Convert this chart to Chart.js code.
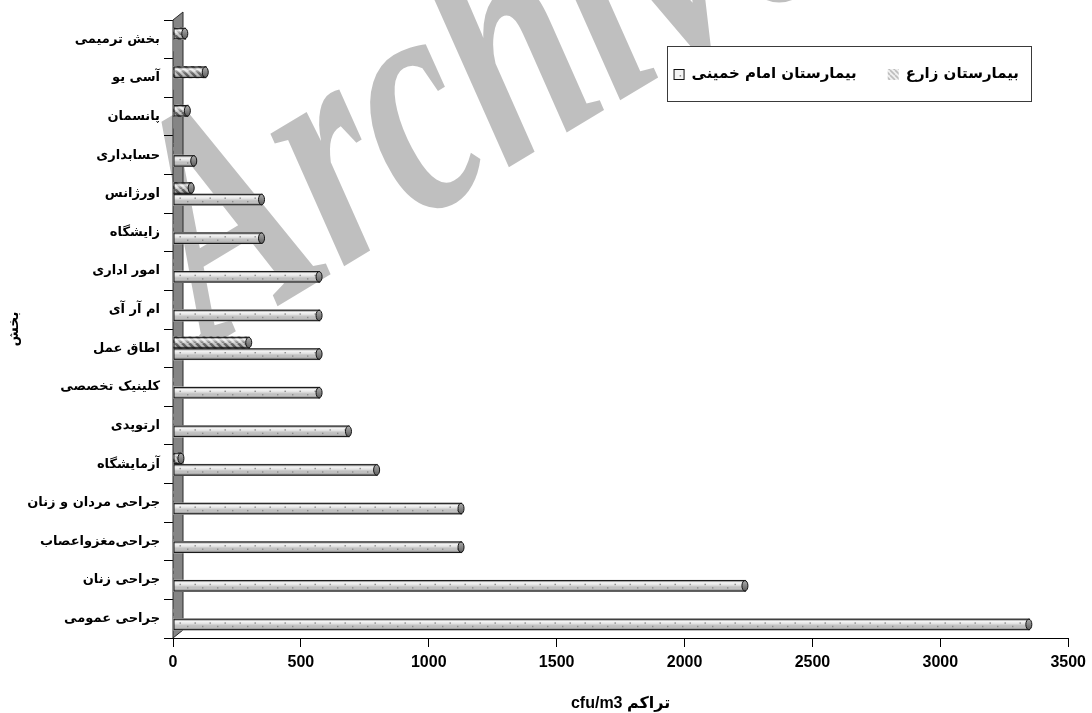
<!DOCTYPE html>
<html>
<head>
<meta charset="utf-8">
<script src="https://cdn.jsdelivr.net/npm/chart.js@4/dist/chart.umd.min.js"></script>
<style>
  html, body { margin: 0; padding: 0; background: #ffffff; }
  #wrap { width: 1092px; height: 713px; }
</style>
</head>
<body>
<div id="wrap"><canvas id="c" width="1092" height="713" dir="rtl"></canvas></div>
<script>
// Wards, listed from the top of the chart down
const categories = [
  'بخش ترمیمی', 'آسی یو', 'پانسمان', 'حسابداری', 'اورژانس', 'زایشگاه',
  'امور اداری', 'ام آر آی', 'اطاق عمل', 'کلینیک تخصصی', 'ارتوپدی',
  'آزمایشگاه', 'جراحی مردان و زنان', 'جراحی\u200Cمغزواعصاب', 'جراحی زنان', 'جراحی عمومی'
];
// Airborne counts (cfu/m3) per ward
const zareValues     = [50, 130, 60, 0, 75, 0, 0, 0, 300, 0, 0, 35, 0, 0, 0, 0];
const khomeiniValues = [0, 0, 0, 85, 350, 350, 575, 575, 575, 575, 690, 800, 1130, 1130, 2240, 3350];
const seriesNames = ['بیمارستان زارع', 'بیمارستان امام خمینی'];
const xTickValues = [0, 500, 1000, 1500, 2000, 2500, 3000, 3500];
const xTitle = 'تراکم cfu/m3';
const yTitle = 'بخش';

const canvas = document.getElementById('c');
const ctx = canvas.getContext('2d');

function makeHatch(fg, bg, size, lw) {
  const t = document.createElement('canvas');
  t.width = size; t.height = size;
  const g = t.getContext('2d');
  g.fillStyle = bg; g.fillRect(0, 0, size, size);
  g.strokeStyle = fg; g.lineWidth = lw;
  g.beginPath();
  for (let k = -size; k <= size; k += size) {
    g.moveTo(k, 0); g.lineTo(k + size, size);
  }
  g.stroke();
  return ctx.createPattern(t, 'repeat');
}

const hatchBar = makeHatch('#6a6a6a', '#d6d6d6', 7, 2.6);
const hatchSwatch = makeHatch('#bdbdbd', '#f0f0f0', 5, 1.6);

const labelFont = '"DejaVu Sans", sans-serif';
const numFont = '"Liberation Sans", Arial, "DejaVu Sans", sans-serif';

// Back wall of the 3-D plot, and the faint archive stamp behind the bars
const backdrop = {
  id: 'backdrop',
  beforeDatasetsDraw(chart, args, opts) {
    const c = chart.ctx, a = chart.chartArea;
    c.save();
    c.translate(opts.stampX, opts.stampY);
    c.rotate(opts.stampAngle * Math.PI / 180);
    c.scale(opts.stampSqueeze, 1);
    c.font = 'italic bold ' + opts.stampSize + 'px "Liberation Serif", serif';
    c.fillStyle = 'rgba(0,0,0,0.25)';
    c.textAlign = 'left';
    c.textBaseline = 'alphabetic';
    c.fillText('Archive of SID', 0, 0);
    c.restore();

    const dx = opts.depthX, dy = opts.depthY;
    c.save();
    c.beginPath();
    c.moveTo(a.left, a.top);
    c.lineTo(a.left + dx, a.top - dy);
    c.lineTo(a.left + dx, a.bottom - dy);
    c.lineTo(a.left, a.bottom);
    c.closePath();
    c.fillStyle = '#858585';
    c.fill();
    c.strokeStyle = '#2a2a2a';
    c.lineWidth = 1;
    c.stroke();
    c.restore();
  }
};

// Cylinder shading, dots and end caps on each bar
const cylinders = {
  id: 'cylinders',
  afterDatasetsDraw(chart) {
    const c = chart.ctx;
    chart.data.datasets.forEach((ds, di) => {
      const meta = chart.getDatasetMeta(di);
      meta.data.forEach((el, i) => {
        if (!ds.data[i]) return;
        const p = el.getProps(['x', 'y', 'base', 'height'], true);
        const top = p.y - p.height / 2, bot = p.y + p.height / 2;
        const left = Math.min(p.base, p.x), right = Math.max(p.base, p.x);
        c.save();
        const g = c.createLinearGradient(0, top, 0, bot);
        g.addColorStop(0, 'rgba(0,0,0,0.20)');
        g.addColorStop(0.22, 'rgba(255,255,255,0.80)');
        g.addColorStop(0.45, 'rgba(255,255,255,0.30)');
        g.addColorStop(0.75, 'rgba(0,0,0,0.08)');
        g.addColorStop(1, 'rgba(0,0,0,0.45)');
        c.fillStyle = g;
        c.fillRect(left + 0.5, top + 0.5, right - left - 1, p.height - 1);
        if (ds.dots) {
          c.fillStyle = '#8c8c8c';
          let k = 0;
          for (let px = left + 6; px < right - 4; px += 7.5, k++) {
            const py = (k % 2 === 0) ? p.y - p.height * 0.18 : p.y + p.height * 0.12;
            c.fillRect(px, py, 1.4, 1.4);
          }
        }
        c.strokeStyle = '#111';
        c.lineWidth = 1;
        c.strokeRect(left + 0.5, top + 0.5, right - left - 1, p.height - 1);
        // end cap
        const cg = c.createLinearGradient(0, top, 0, bot);
        cg.addColorStop(0, '#b0b0b0');
        cg.addColorStop(1, '#5a5a5a');
        c.beginPath();
        c.ellipse(right - 1, p.y, 3, p.height / 2 - 0.5, 0, 0, Math.PI * 2);
        c.fillStyle = cg;
        c.fill();
        c.stroke();
        c.restore();
      });
    });
  }
};

// Boxed legend in the upper right, items read right to left
const boxLegend = {
  id: 'boxLegend',
  afterDraw(chart, args, o) {
    const c = chart.ctx;
    c.save();
    c.fillStyle = '#fff';
    c.fillRect(o.left, o.top, o.right - o.left, o.bottom - o.top);
    c.strokeStyle = '#3a3a3a';
    c.lineWidth = 1;
    c.strokeRect(o.left + 0.5, o.top + 0.5, o.right - o.left, o.bottom - o.top);
    c.font = 'bold ' + o.fontSize + 'px ' + labelFont;
    c.textAlign = 'right';
    c.textBaseline = 'middle';
    const cy = (o.top + o.bottom) / 2 + 1;
    let x = o.right - o.inset;
    chart.data.datasets.forEach((ds) => {
      c.fillStyle = '#000';
      c.fillText(ds.label, x, cy);
      const w = c.measureText(ds.label).width;
      const sx = x - w - o.swatchGap - o.swatch;
      const sy = cy - o.swatch / 2;
      if (ds.dots) {
        c.fillStyle = '#f4f4f4';
        c.fillRect(sx, sy, o.swatch, o.swatch);
        c.fillStyle = '#888';
        c.fillRect(sx + o.swatch * 0.55, sy + o.swatch * 0.55, 1.5, 1.5);
        c.strokeStyle = '#111';
        c.strokeRect(sx + 0.5, sy + 0.5, o.swatch - 1, o.swatch - 1);
      } else {
        c.fillStyle = hatchSwatch;
        c.fillRect(sx, sy, o.swatch, o.swatch);
      }
      x = sx - o.itemGap;
    });
    c.restore();
  }
};

new Chart(ctx, {
  type: 'bar',
  data: {
    labels: categories,
    datasets: [
      {
        label: seriesNames[0],
        data: zareValues,
        backgroundColor: hatchBar,
        borderWidth: 0,
        barThickness: 11.5,
        dots: false
      },
      {
        label: seriesNames[1],
        data: khomeiniValues,
        backgroundColor: '#d3d3d3',
        borderWidth: 0,
        barThickness: 11.5,
        dots: true
      }
    ]
  },
  options: {
    indexAxis: 'y',
    responsive: false,
    devicePixelRatio: 1,
    animation: false,
    layout: { padding: { top: 20, right: 22, bottom: 0, left: 0 } },
    scales: {
      x: {
        type: 'linear',
        min: xTickValues[0],
        max: xTickValues[xTickValues.length - 1],
        afterBuildTicks: (s) => { s.ticks = xTickValues.map(v => ({ value: v })); },
        ticks: { color: '#000', font: { family: numFont, size: 16, weight: 'bold' }, padding: 6, maxRotation: 0, callback: (v) => String(v) },
        grid: { drawOnChartArea: false, drawTicks: true, tickLength: 9, color: '#000' },
        border: { color: '#000', width: 1 },
        title: { display: true, text: xTitle, color: '#000', font: { family: numFont, size: 16, weight: 'bold' }, padding: { top: 0, bottom: 0 } },
        afterFit: (s) => { s.height = 75; }
      },
      y: {
        type: 'category',
        ticks: { color: '#000', font: { family: labelFont, size: 13, weight: 'bold' }, padding: 4 },
        grid: { drawOnChartArea: false, drawTicks: true, tickLength: 9, color: '#000', offset: true },
        border: { color: '#000', width: 1 },
        title: { display: true, text: yTitle, color: '#000', font: { family: labelFont, size: 14, weight: 'bold' }, padding: { top: 6, bottom: 0 } },
        afterFit: (s) => { s.width = 173; }
      }
    },
    plugins: {
      legend: { display: false },
      tooltip: { enabled: false },
      backdrop: { depthX: 10, depthY: 8, stampX: 208, stampY: 348, stampAngle: -31, stampSize: 330, stampSqueeze: 0.7 },
      boxLegend: { left: 667, top: 46, right: 1031, bottom: 101, inset: 12, fontSize: 15, swatch: 11, swatchGap: 7, itemGap: 31 }
    }
  },
  plugins: [backdrop, cylinders, boxLegend]
});
</script>
</body>
</html>
